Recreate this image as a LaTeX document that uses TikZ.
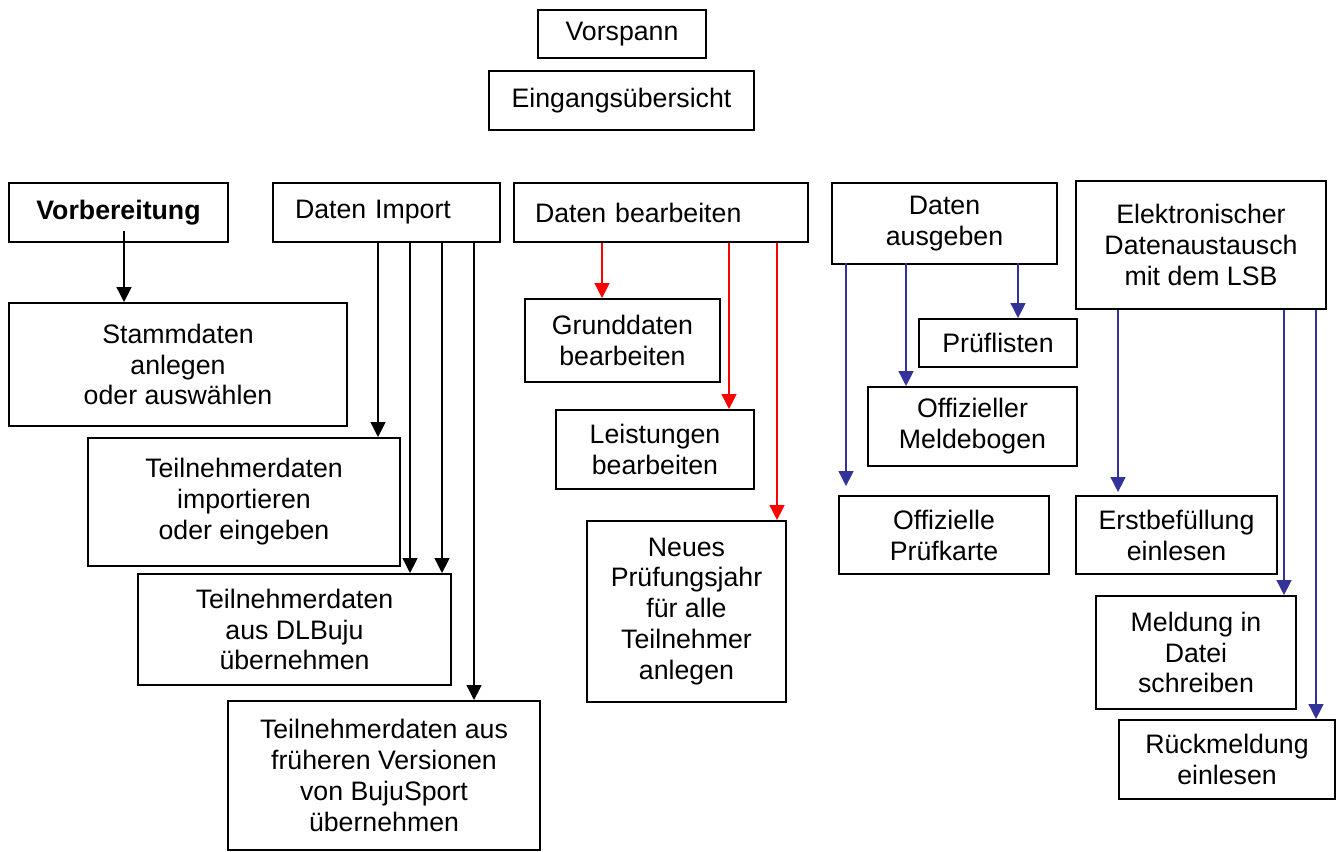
\documentclass[tikz,border=0pt]{standalone}
\usepackage{fontspec}
\setmainfont{Liberation Sans}
\usepackage{tikz}
\usetikzlibrary{positioning,calc,arrows.meta}
\definecolor{lsbblue}{RGB}{51,51,153}

\begin{document}
\begin{tikzpicture}[
    block/.style={rectangle, draw=black, line width=1.1pt, align=center, inner sep=0pt, font=\fontsize{15.2pt}{17.6pt}\selectfont},
    link/.style={line width=0.8pt, -{Triangle[width=0.3cm,length=0.3cm]}},
    redlink/.style={link, red},
    bluelink/.style={link, lsbblue}
]
    \useasboundingbox (0,0) rectangle (26.72,-17.02);

    \node[block, minimum width=3.36cm, minimum height=0.96cm] (vorspann) at (12.44,-0.68) {Vorspann};
    \node[block, minimum width=5.30cm, minimum height=1.18cm] (eingang) at (12.43,-2.01) {Eingangsübersicht};

    % Hauptbereiche
    \node[block, minimum width=4.38cm, minimum height=1.18cm] (vorb) at (2.37,-4.25) {\textbf{Vorbereitung}};
    \node[block, minimum height=1.18cm, text width=3.66cm, inner xsep=0.44cm, align=left] (import) at (7.73,-4.25) {Daten Import};
    \node[block, minimum height=1.18cm, text width=5.04cm, inner xsep=0.42cm, align=left] (bearb) at (13.22,-4.25) {Daten bearbeiten};
    \node[block, minimum width=4.50cm, minimum height=1.62cm] (ausgeben) at (18.89,-4.47) {Daten\\ausgeben};
    \node[block, minimum width=5.00cm, minimum height=2.56cm] (lsb) at (24.02,-4.90) {Elektronischer\\Datenaustausch\\mit dem LSB};

    % Vorbereitung und Import
    \node[block, minimum width=6.76cm, minimum height=2.46cm] (stamm) at (3.56,-7.29) {Stammdaten\\anlegen\\oder auswählen};
    \node[block, minimum width=6.24cm, minimum height=2.56cm] (tnimport) at (4.88,-10.04) {Teilnehmerdaten\\importieren\\oder eingeben};
    \node[block, minimum width=6.26cm, minimum height=2.22cm] (tndlbuju) at (5.89,-12.59) {Teilnehmerdaten\\aus DLBuju\\übernehmen};
    \node[block, minimum width=6.24cm, minimum height=2.98cm] (tnfrueher) at (7.68,-15.51) {Teilnehmerdaten aus\\früheren Versionen\\von BujuSport\\übernehmen};

    % Bearbeiten
    \node[block, minimum width=3.90cm, minimum height=1.66cm] (grund) at (12.45,-6.81) {Grunddaten\\bearbeiten};
    \node[block, minimum width=3.96cm, minimum height=1.58cm] (leist) at (13.10,-8.99) {Leistungen\\bearbeiten};
    \node[block, minimum width=3.98cm, minimum height=3.62cm] (neues) at (13.73,-12.23) {Neues\\Prüfungsjahr\\für alle\\Teilnehmer\\anlegen};

    % Ausgeben
    \node[block, minimum width=3.16cm, minimum height=0.96cm] (prueflist) at (19.96,-6.86) {Prüflisten};
    \node[block, minimum width=4.18cm, minimum height=1.58cm] (meldebogen) at (19.45,-8.53) {Offizieller\\Meldebogen};
    \node[block, minimum width=4.20cm, minimum height=1.56cm] (pruefkarte) at (18.88,-10.70) {Offizielle\\Prüfkarte};

    % LSB
    \node[block, minimum width=4.02cm, minimum height=1.56cm] (erstbef) at (23.53,-10.70) {Erstbefüllung\\einlesen};
    \node[block, minimum width=4.00cm, minimum height=2.26cm] (meldung) at (23.92,-13.05) {Meldung in\\Datei\\schreiben};
    \node[block, minimum width=4.32cm, minimum height=1.58cm] (rueck) at (24.54,-15.19) {Rückmeldung\\einlesen};

    % Startpunkte der Pfeile
    \coordinate (v1) at ($(vorb.south west)+(2.32,0.24)$);
    \coordinate (i1) at ($(import.south west)+(2.12,0)$);
    \coordinate (i2) at ($(import.south west)+(2.76,0)$);
    \coordinate (i3) at ($(import.south west)+(3.40,0)$);
    \coordinate (i4) at ($(import.south west)+(4.04,0)$);
    \coordinate (b1) at ($(bearb.south west)+(1.78,0)$);
    \coordinate (b2) at ($(bearb.south west)+(4.32,0)$);
    \coordinate (b3) at ($(bearb.south west)+(5.28,0)$);
    \coordinate (a1) at ($(ausgeben.south west)+(0.30,0.04)$);
    \coordinate (a2) at ($(ausgeben.south west)+(1.50,0.04)$);
    \coordinate (a3) at ($(ausgeben.south west)+(3.74,0.04)$);
    \coordinate (l1) at ($(lsb.south west)+(0.86,0)$);
    \coordinate (l2) at ($(lsb.south west)+(4.18,0)$);
    \coordinate (l3) at ($(lsb.south west)+(4.82,0)$);

    % Pfeile
    \draw[link] (v1) -- (v1 |- stamm.north);

    \draw[link] (i1) -- (i1 |- tnimport.north);
    \draw[link] (i2) -- (i2 |- tndlbuju.north);
    \draw[link] (i3) -- (i3 |- tndlbuju.north);
    \draw[link] (i4) -- (i4 |- tnfrueher.north);

    \draw[redlink] (b1) -- (b1 |- grund.north);
    \draw[redlink] (b2) -- (b2 |- leist.north);
    \draw[redlink] (b3) -- (b3 |- neues.north);

    \draw[bluelink, shorten >=0.18cm] (a1) -- (a1 |- pruefkarte.north);
    \draw[bluelink] (a2) -- (a2 |- meldebogen.north);
    \draw[bluelink] (a3) -- (a3 |- prueflist.north);

    \draw[bluelink, shorten >=0.06cm] (l1) -- (l1 |- erstbef.north);
    \draw[bluelink] (l2) -- (l2 |- meldung.north);
    \draw[bluelink] (l3) -- (l3 |- rueck.north);
\end{tikzpicture}
\end{document}
